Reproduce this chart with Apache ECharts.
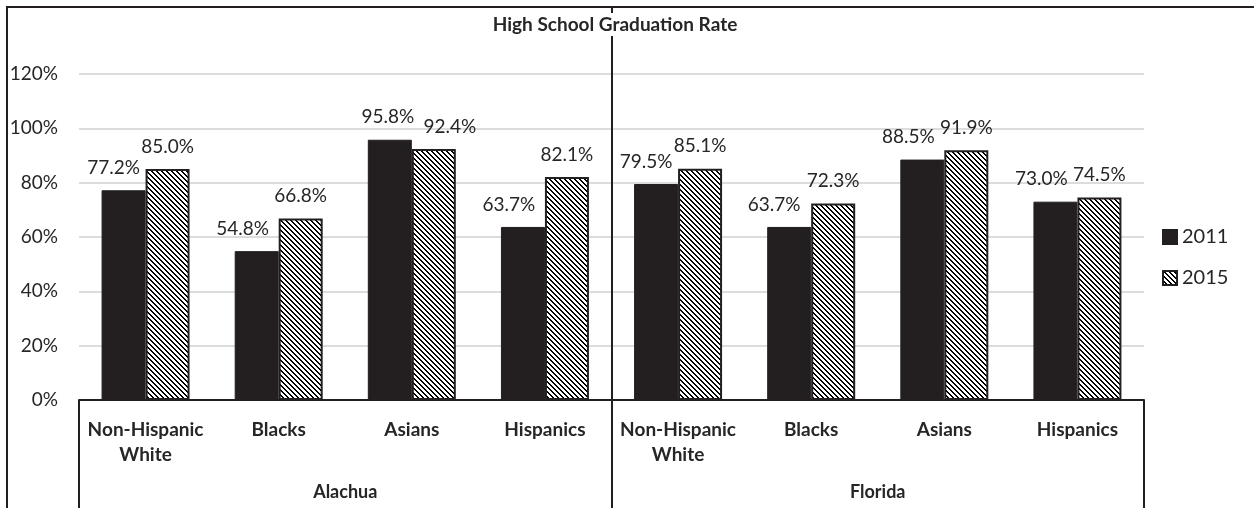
<!DOCTYPE html>
<html>
<head>
<meta charset="utf-8">
<script src="https://cdn.jsdelivr.net/npm/echarts@6/dist/echarts.min.js"></script>
<style>
html,body{margin:0;padding:0;background:#fff;}
#chart{width:1254px;height:508px;}
</style>
</head>
<body>
<div id="chart"></div>
<script>
// ---- data ----
const categories = ['Non-Hispanic\nWhite', 'Blacks', 'Asians', 'Hispanics', 'Non-Hispanic\nWhite', 'Blacks', 'Asians', 'Hispanics'];
const groups = ['Alachua', 'Florida'];
const seriesNames = ['2011', '2015'];
const values2011 = [77.2, 54.8, 95.8, 63.7, 79.5, 63.7, 88.5, 73.0];
const values2015 = [85.0, 66.8, 92.4, 82.1, 85.1, 72.3, 91.9, 74.5];
const yTicks = { min: 0, max: 120, interval: 20 };

// label horizontal shifts (layout only)
const shift2011 = [-10, -14, -2, -14, -10, -15, -14, -14];
const shift2015 = [0, 0, 16, 0, 0, 0, 0, 0];

const INK = '#231f20';
const TXT = '#262626';
const FONT = 'Lato, "Open Sans", sans-serif';

// hatch pattern (downward diagonal)
const pc = document.createElement('canvas');
pc.width = 5; pc.height = 5;
const pctx = pc.getContext('2d');
pctx.fillStyle = '#ffffff';
pctx.fillRect(0, 0, 5, 5);
pctx.fillStyle = '#000000';
for (let r = 0; r < 5; r++) {
  pctx.fillRect(r % 5, r, 1, 1);
  pctx.fillRect((r + 1) % 5, r, 1, 1);
}

function mk(vals, shifts) {
  return vals.map((v, i) => ({ value: v, label: { offset: [shifts[i], 0] } }));
}

const chart = echarts.init(document.getElementById('chart'), null, { renderer: 'canvas' });
const option = {
  animation: false,
  backgroundColor: '#ffffff',
  textStyle: { fontFamily: FONT, color: TXT },
  title: {
    text: 'High School Graduation Rate',
    left: 611, textAlign: 'center', top: 13,
    padding: [2, 4],
    backgroundColor: '#ffffff',
    z: 20,
    textStyle: { fontFamily: FONT, fontSize: 19, fontWeight: 'bold', color: TXT }
  },
  legend: {
    orient: 'vertical',
    left: 1157, top: 222,
    itemWidth: 14, itemHeight: 14, itemGap: 21,
    icon: 'rect',
    textStyle: { fontFamily: FONT, fontSize: 20, color: TXT },
    data: seriesNames
  },
  grid: { left: 79, right: 110, top: 74, bottom: 108, containLabel: false },
  xAxis: [
    {
      type: 'category', data: categories, position: 'bottom',
      axisLine: { show: true, lineStyle: { color: INK, width: 2 } },
      axisTick: { show: false },
      axisLabel: { interval: 0, margin: 17, fontFamily: FONT, fontSize: 19, fontWeight: 'bold', color: TXT, lineHeight: 25 }
    },
    {
      type: 'category', data: groups, position: 'bottom',
      axisLine: { show: false },
      axisTick: { show: true, length: 110, lineStyle: { color: INK, width: 2 } },
      axisLabel: { interval: 0, margin: 83, fontFamily: FONT, fontSize: 18, fontWeight: 'bold', color: TXT }
    }
  ],
  yAxis: {
    type: 'value', min: yTicks.min, max: yTicks.max, interval: yTicks.interval,
    axisLine: { show: false }, axisTick: { show: false },
    axisLabel: { formatter: '{value}%', margin: 21, fontFamily: FONT, fontSize: 19, color: TXT },
    splitLine: { lineStyle: { color: '#dcdcdc', width: 2 } }
  },
  series: [
    {
      name: seriesNames[0], type: 'bar', xAxisIndex: 0,
      data: mk(values2011, shift2011),
      barWidth: 44, barGap: '0%',
      itemStyle: { color: INK, borderColor: INK, borderWidth: 1 },
      label: { show: true, position: 'top', distance: 13, formatter: p => p.value.toFixed(1) + '%', fontFamily: FONT, fontSize: 19, color: TXT }
    },
    {
      name: seriesNames[1], type: 'bar', xAxisIndex: 0,
      data: mk(values2015, shift2015),
      barWidth: 44, barGap: '0%',
      itemStyle: { color: { image: pc, repeat: 'repeat' }, borderColor: INK, borderWidth: 2 },
      label: { show: true, position: 'top', distance: 13, formatter: p => p.value.toFixed(1) + '%', fontFamily: FONT, fontSize: 19, color: TXT }
    }
  ]
};
chart.setOption(option);

// decorations: chart border and group separator through plot
const xa = chart.convertToPixel({ xAxisIndex: 0 }, 3);
const xb = chart.convertToPixel({ xAxisIndex: 0 }, 4);
const sepX = Math.round((xa + xb) / 2);
const y0 = chart.convertToPixel({ yAxisIndex: 0 }, 0);
chart.setOption({
  graphic: [
    { type: 'rect', z: 0, shape: { x: 7, y: 7, width: 1300, height: 600 }, style: { fill: null, stroke: INK, lineWidth: 2 }, silent: true },
    { type: 'line', z: 0, shape: { x1: sepX, y1: 7, x2: sepX, y2: y0 }, style: { stroke: INK, lineWidth: 2 }, silent: true }
  ]
});
</script>
</body>
</html>
